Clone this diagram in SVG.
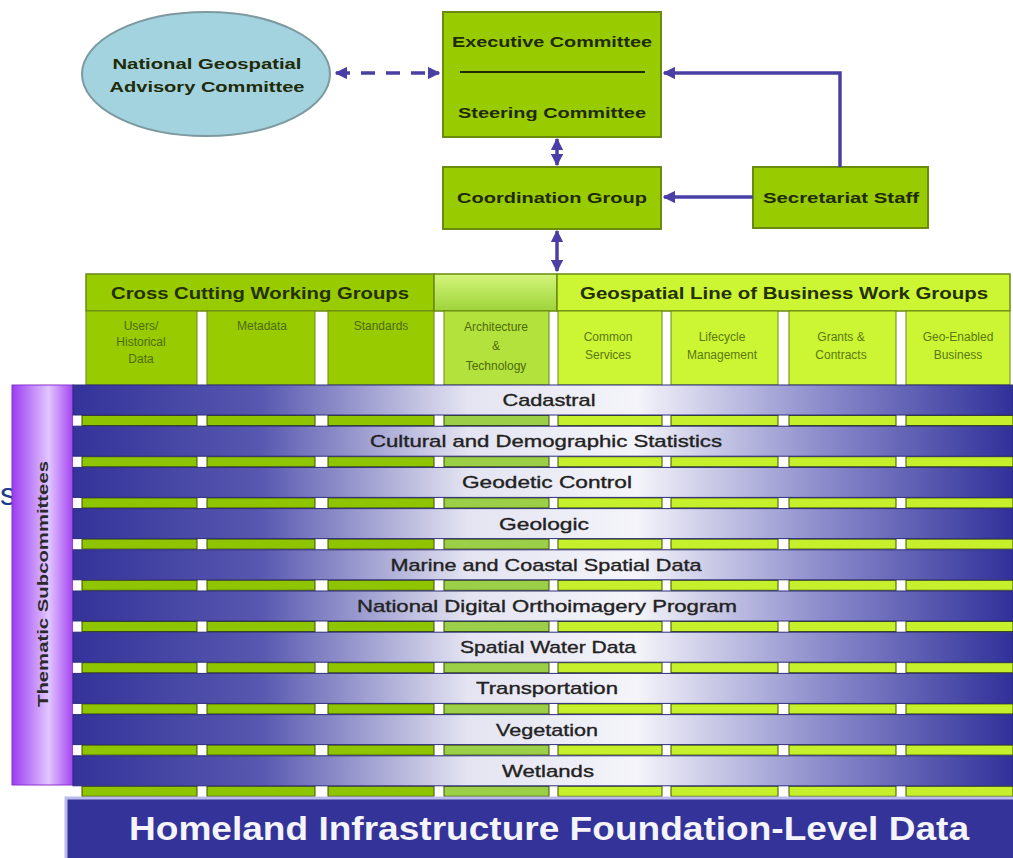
<svg xmlns="http://www.w3.org/2000/svg" width="1013" height="858" viewBox="0 0 1013 858">
<style>
.box{fill:#99cc00;stroke:#6a8a10;stroke-width:2}
.bt{font-family:"Liberation Sans",Arial,sans-serif;font-weight:bold;font-size:15px;fill:#1e2a08;text-anchor:middle}
.ht{font-family:"Liberation Sans",Arial,sans-serif;font-weight:bold;font-size:16px;fill:#243000;text-anchor:middle}
.st{font-family:"Liberation Sans",Arial,sans-serif;font-size:12px;fill:#4d6b0a;text-anchor:middle}
.st2{font-family:"Liberation Sans",Arial,sans-serif;font-size:12px;fill:#5a7a10;text-anchor:middle}
.band{fill:url(#bandg);stroke:#2c2c7a;stroke-width:1}
.bandt{font-family:"Liberation Sans",Arial,sans-serif;font-size:17px;fill:#222;stroke:#222;stroke-width:0.35;text-anchor:middle}
.gA{fill:#8fc400;stroke:#3d5200;stroke-width:1}
.gB{fill:#9ccf48;stroke:#3d5200;stroke-width:1}
.gC{fill:#c6f02c;stroke:#3d5200;stroke-width:1}
.con{stroke:#4a3fa5;stroke-width:3.5;fill:none}
</style>
<defs>
<linearGradient id="bandg" gradientUnits="userSpaceOnUse" x1="73" y1="0" x2="1013" y2="0">
<stop offset="0" stop-color="#33339a"/>
<stop offset="0.2" stop-color="#5858b0"/>
<stop offset="0.42" stop-color="#e4e4f2"/>
<stop offset="0.6" stop-color="#f4f4fa"/>
<stop offset="0.8" stop-color="#8a8acb"/>
<stop offset="1" stop-color="#30309a"/>
</linearGradient>
<linearGradient id="purp" x1="0" y1="0" x2="1" y2="0">
<stop offset="0" stop-color="#9a3cf0"/>
<stop offset="0.6" stop-color="#e2c6ff"/>
<stop offset="1" stop-color="#a444f0"/>
</linearGradient>
<linearGradient id="midg" x1="0" y1="0" x2="0" y2="1">
<stop offset="0" stop-color="#d4f57a"/>
<stop offset="1" stop-color="#9ed43a"/>
</linearGradient>
<marker id="ah" viewBox="0 0 10 10" refX="9" refY="5" markerWidth="3.6" markerHeight="3.6" orient="auto-start-reverse" markerUnits="strokeWidth">
<path d="M0,0 L10,5 L0,10 z" fill="#4a3fa5"/>
</marker>
</defs>
<rect width="1013" height="858" fill="#ffffff"/>

<text x="0" y="505" font-family="'Liberation Sans',Arial,sans-serif" font-size="32" fill="#1a3c8c">s</text>

<g id="ngac">
<ellipse cx="206" cy="74" rx="124" ry="62" fill="#a3d3de" stroke="#7c9aa0" stroke-width="2"/>
<text class="bt" x="207" y="69" textLength="189" lengthAdjust="spacingAndGlyphs" fill="#1a2a40">National Geospatial</text>
<text class="bt" x="207" y="92" textLength="195" lengthAdjust="spacingAndGlyphs">Advisory Committee</text>
</g>

<g id="exec">
<rect class="box" x="443" y="12" width="218" height="125"/>
<text class="bt" x="552" y="47" textLength="200" lengthAdjust="spacingAndGlyphs">Executive Committee</text>
<line x1="460" y1="72" x2="645" y2="72" stroke="#1e2a08" stroke-width="2"/>
<text class="bt" x="552" y="118" textLength="188" lengthAdjust="spacingAndGlyphs">Steering Committee</text>
</g>

<g id="coord">
<rect class="box" x="443" y="167" width="218" height="62"/>
<text class="bt" x="552" y="203" textLength="190" lengthAdjust="spacingAndGlyphs">Coordination Group</text>
</g>

<g id="secretariat">
<rect class="box" x="753" y="167" width="175" height="61"/>
<text class="bt" x="841" y="203" textLength="156" lengthAdjust="spacingAndGlyphs">Secretariat Staff</text>
</g>

<g id="header">
<rect x="86" y="274" width="348" height="37" fill="#99cc00" stroke="#6a8a10" stroke-width="1.5"/>
<text class="ht" x="260" y="299" textLength="298" lengthAdjust="spacingAndGlyphs">Cross Cutting Working Groups</text>
<rect x="434" y="274" width="123" height="37" fill="url(#midg)" stroke="#6a8a10" stroke-width="1.5"/>
<rect x="557" y="274" width="453" height="37" fill="#ccf534" stroke="#6a8a10" stroke-width="1.5"/>
<text class="ht" x="784" y="299" textLength="408" lengthAdjust="spacingAndGlyphs">Geospatial Line of Business Work Groups</text>
</g>

<g id="cells">
<rect x="86" y="311" width="111" height="74" fill="#99cc00" stroke="#6a8a10"/>
<text class="st" x="141" y="330">Users/</text>
<text class="st" x="141" y="346">Historical</text>
<text class="st" x="141" y="363">Data</text>
<rect x="207" y="311" width="108" height="74" fill="#99cc00" stroke="#6a8a10"/>
<text class="st" x="262" y="330">Metadata</text>
<rect x="328" y="311" width="106" height="74" fill="#99cc00" stroke="#6a8a10"/>
<text class="st" x="381" y="330">Standards</text>
<rect x="444" y="311" width="105" height="74" fill="#b4e23c" stroke="#6a8a10"/>
<text class="st" x="496" y="331">Architecture</text>
<text class="st" x="496" y="350">&amp;</text>
<text class="st" x="496" y="370">Technology</text>
<rect x="558" y="311" width="104" height="74" fill="#ccf534" stroke="#6a8a10"/>
<text class="st2" x="608" y="341">Common</text>
<text class="st2" x="608" y="359">Services</text>
<rect x="671" y="311" width="107" height="74" fill="#ccf534" stroke="#6a8a10"/>
<text class="st2" x="722" y="341">Lifecycle</text>
<text class="st2" x="722" y="359">Management</text>
<rect x="789" y="311" width="107" height="74" fill="#ccf534" stroke="#6a8a10"/>
<text class="st2" x="841" y="341">Grants &amp;</text>
<text class="st2" x="841" y="359">Contracts</text>
<rect x="906" y="311" width="104" height="74" fill="#ccf534" stroke="#6a8a10"/>
<text class="st2" x="958" y="341">Geo-Enabled</text>
<text class="st2" x="958" y="359">Business</text>
</g>

<g id="thematic">
<rect x="12" y="385" width="61" height="400" fill="url(#purp)" stroke="#8a30d0" stroke-width="1"/>
<text transform="translate(48,584) rotate(-90)" font-family="'Liberation Sans',Arial,sans-serif" font-weight="bold" font-size="14" fill="#2a2a2a" text-anchor="middle" textLength="246" lengthAdjust="spacingAndGlyphs">Thematic Subcommittees</text>
</g>

<g id="stripes">
<g id="stripe-template">
<rect x="73" y="415" width="940" height="11" fill="#ffffff"/>
<rect class="gA" x="82" y="415.5" width="115" height="10"/>
<rect class="gA" x="207" y="415.5" width="108" height="10"/>
<rect class="gA" x="328" y="415.5" width="106" height="10"/>
<rect class="gB" x="444" y="415.5" width="105" height="10"/>
<rect class="gC" x="558" y="415.5" width="104" height="10"/>
<rect class="gC" x="671" y="415.5" width="107" height="10"/>
<rect class="gC" x="789" y="415.5" width="107" height="10"/>
<rect class="gC" x="906" y="415.5" width="107" height="10"/>
</g>
<use href="#stripe-template" y="41.2"/>
<use href="#stripe-template" y="82.4"/>
<use href="#stripe-template" y="123.6"/>
<use href="#stripe-template" y="164.8"/>
<use href="#stripe-template" y="206"/>
<use href="#stripe-template" y="247.2"/>
<use href="#stripe-template" y="288.4"/>
<use href="#stripe-template" y="329.6"/>
<use href="#stripe-template" y="370.8"/>
</g>

<g id="band-cadastral"><rect class="band" x="73" y="385" width="940" height="30"/><text class="bandt" x="549" y="406" textLength="93" lengthAdjust="spacingAndGlyphs">Cadastral</text></g>
<g id="band-cultural"><rect class="band" x="73" y="426.2" width="940" height="30"/><text class="bandt" x="546" y="447.2" textLength="352" lengthAdjust="spacingAndGlyphs">Cultural and Demographic Statistics</text></g>
<g id="band-geodetic"><rect class="band" x="73" y="467.4" width="940" height="30"/><text class="bandt" x="547" y="488.4" textLength="170" lengthAdjust="spacingAndGlyphs">Geodetic Control</text></g>
<g id="band-geologic"><rect class="band" x="73" y="508.6" width="940" height="30"/><text class="bandt" x="544" y="529.6" textLength="90" lengthAdjust="spacingAndGlyphs">Geologic</text></g>
<g id="band-marine"><rect class="band" x="73" y="549.8" width="940" height="30"/><text class="bandt" x="546" y="570.8" textLength="311" lengthAdjust="spacingAndGlyphs">Marine and Coastal Spatial Data</text></g>
<g id="band-ndop"><rect class="band" x="73" y="591" width="940" height="30"/><text class="bandt" x="547" y="612" textLength="380" lengthAdjust="spacingAndGlyphs">National Digital Orthoimagery Program</text></g>
<g id="band-water"><rect class="band" x="73" y="632.2" width="940" height="30"/><text class="bandt" x="548" y="653.2" textLength="176" lengthAdjust="spacingAndGlyphs">Spatial Water Data</text></g>
<g id="band-transport"><rect class="band" x="73" y="673.4" width="940" height="30"/><text class="bandt" x="547" y="694.4" textLength="142" lengthAdjust="spacingAndGlyphs">Transportation</text></g>
<g id="band-vegetation"><rect class="band" x="73" y="714.6" width="940" height="30"/><text class="bandt" x="547" y="735.6" textLength="102" lengthAdjust="spacingAndGlyphs">Vegetation</text></g>
<g id="band-wetlands"><rect class="band" x="73" y="755.8" width="940" height="30"/><text class="bandt" x="548" y="776.8" textLength="92" lengthAdjust="spacingAndGlyphs">Wetlands</text></g>

<g id="hifld">
<rect x="66" y="798" width="950" height="63" fill="#333399" stroke="#bcbcec" stroke-width="3"/>
<text x="549" y="840" font-family="'Liberation Sans',Arial,sans-serif" font-weight="bold" font-size="34" fill="#f4f4fa" text-anchor="middle" textLength="840" lengthAdjust="spacingAndGlyphs">Homeland Infrastructure Foundation-Level Data</text>
</g>

<g id="connectors">
<line class="con" x1="336" y1="73" x2="439" y2="73" stroke-dasharray="14 11" marker-start="url(#ah)" marker-end="url(#ah)"/>
<line class="con" x1="557" y1="139" x2="557" y2="165" marker-start="url(#ah)" marker-end="url(#ah)"/>
<line class="con" x1="557" y1="231" x2="557" y2="271" marker-start="url(#ah)" marker-end="url(#ah)"/>
<path class="con" d="M840,167 V73 H664" marker-end="url(#ah)"/>
<path class="con" d="M753,197 H664" marker-end="url(#ah)"/>
</g>
</svg>
